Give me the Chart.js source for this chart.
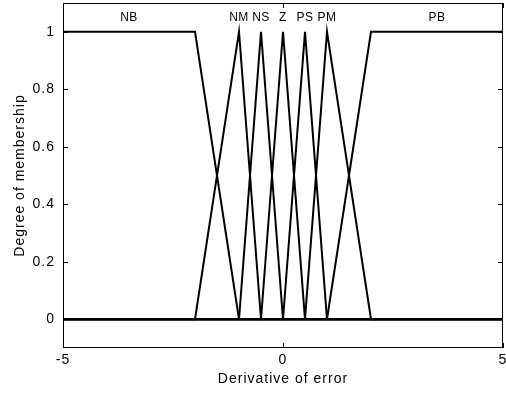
<!DOCTYPE html>
<html>
<head>
<meta charset="utf-8">
<script src="https://cdn.jsdelivr.net/npm/chart.js@4/dist/chart.umd.min.js"></script>
<style>
  html, body { margin: 0; padding: 0; background: #fff; }
  #wrap { width: 506px; height: 393px; }
</style>
</head>
<body>
<div id="wrap"><canvas id="c" width="506" height="393"></canvas></div>
<script>
// Membership function names and their breakpoints (x, degree)
const mfNames = ['NB', 'NM', 'NS', 'Z', 'PS', 'PM', 'PB'];
const xNB = [-5, -2, -1, 5];           const yNB = [1, 1, 0, 0];
const xNM = [-5, -2, -1, -0.5, 5];     const yNM = [0, 0, 1, 0, 0];
const xNS = [-5, -1, -0.5, 0, 5];      const yNS = [0, 0, 1, 0, 0];
const xZ  = [-5, -0.5, 0, 0.5, 5];     const yZ  = [0, 0, 1, 0, 0];
const xPS = [-5, 0, 0.5, 1, 5];        const yPS = [0, 0, 1, 0, 0];
const xPM = [-5, 0.5, 1, 2, 5];        const yPM = [0, 0, 1, 0, 0];
const xPB = [-5, 1, 2, 5];             const yPB = [0, 0, 1, 1];
// label positions along x (label drawn at degree 1.05)
const labelX = [-3.5, -1, -0.5, 0, 0.5, 1, 3.5];
const labelY = 1.05;
// tick values
const xTicks = [-5, 0, 5];
const yTicks = [0, 0.2, 0.4, 0.6, 0.8, 1];

const xs = [xNB, xNM, xNS, xZ, xPS, xPM, xPB];
const ys = [yNB, yNM, yNS, yZ, yPS, yPM, yPB];

const datasets = mfNames.map((n, i) => ({
  label: n,
  data: xs[i].map((x, j) => ({ x: x, y: ys[i][j] })),
  borderColor: '#000',
  borderWidth: 2,
  pointRadius: 0,
  fill: false,
  tension: 0
}));

const FONT = 'Liberation Sans, Arial, sans-serif';

function noPad(s) {
  s.paddingTop = 0; s.paddingBottom = 0; s.paddingLeft = 0; s.paddingRight = 0;
}

const frame = {
  id: 'frame',
  beforeDraw(chart) {
    chart.ctx.letterSpacing = '1px';
  },
  afterDraw(chart) {
    const { ctx, chartArea: a, scales: { x, y } } = chart;
    ctx.save();
    ctx.letterSpacing = '0.5px';
    ctx.strokeStyle = '#000';
    ctx.lineWidth = 1;
    ctx.strokeRect(a.left + 0.5, a.top + 0.5, a.right - a.left - 1, a.bottom - a.top - 1);
    const L = 5;
    ctx.beginPath();
    x.ticks.forEach(t => {
      const px = Math.round(x.getPixelForValue(t.value)) + 0.5;
      ctx.moveTo(px, a.bottom); ctx.lineTo(px, a.bottom - L);
      ctx.moveTo(px, a.top); ctx.lineTo(px, a.top + L);
    });
    y.ticks.forEach(t => {
      const py = Math.round(y.getPixelForValue(t.value)) + 0.5;
      ctx.moveTo(a.left, py); ctx.lineTo(a.left + L, py);
      ctx.moveTo(a.right, py); ctx.lineTo(a.right - L, py);
    });
    ctx.stroke();
    // MF labels
    ctx.fillStyle = '#000';
    ctx.font = '12px ' + FONT;
    ctx.textAlign = 'center';
    ctx.textBaseline = 'middle';
    mfNames.forEach((n, i) => {
      ctx.fillText(n, x.getPixelForValue(labelX[i]), y.getPixelForValue(labelY));
    });
    ctx.restore();
  }
};

new Chart(document.getElementById('c'), {
  type: 'line',
  data: { datasets },
  options: {
    responsive: false,
    animation: false,
    devicePixelRatio: 1,
    layout: { padding: { left: 0, right: 3, top: 3, bottom: 0 } },
    plugins: { legend: { display: false }, tooltip: { enabled: false } },
    scales: {
      x: {
        type: 'linear', min: -5, max: 5,
        afterBuildTicks: s => { s.ticks = xTicks.map(v => ({ value: v })); },
        afterFit: s => { s.height = 45; noPad(s); },
        grid: { display: false, drawTicks: false },
        border: { display: false },
        ticks: { color: '#000', font: { family: FONT, size: 14 }, padding: 4, maxRotation: 0, callback: v => String(v) },
        title: { display: true, text: 'Derivative of error', color: '#000', font: { family: FONT, size: 14 }, padding: { top: 0, bottom: 5 } }
      },
      y: {
        type: 'linear', min: -0.1, max: 1.1,
        afterBuildTicks: s => { s.ticks = yTicks.map(v => ({ value: v })); },
        afterFit: s => { s.width = 63; noPad(s); },
        grid: { display: false, drawTicks: false },
        border: { display: false },
        ticks: { color: '#000', font: { family: FONT, size: 14 }, padding: 8, callback: v => String(v) },
        title: { display: true, text: 'Degree of membership', color: '#000', font: { family: FONT, size: 14 }, padding: { top: 12, bottom: 0 } }
      }
    }
  },
  plugins: [frame]
});
</script>
</body>
</html>
